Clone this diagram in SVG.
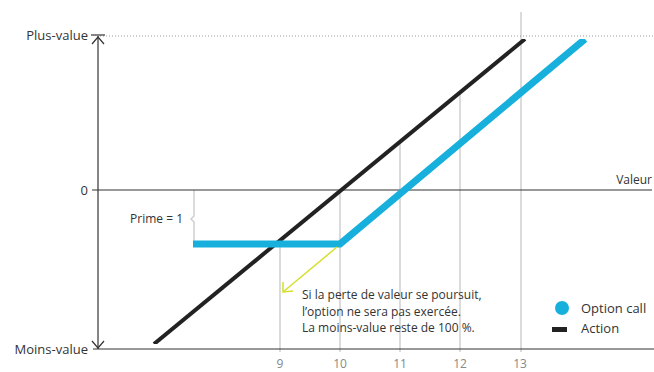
<svg xmlns="http://www.w3.org/2000/svg" width="654" height="372" viewBox="0 0 654 372">
  <style>
    text { font-family: "Open Sans", "Liberation Sans", sans-serif; fill: #333; }
    .lbl { font-size: 13px; }
    .tick { font-size: 12px; fill: #888; text-anchor: middle; }
    .note { font-size: 12px; }
    .axis { stroke: #333; stroke-width: 1.2; fill: none; }
    .grid { stroke: #cfcfcf; stroke-width: 1.5; fill: none; }
  </style>
  <defs>
    <clipPath id="plot"><rect x="0" y="39" width="654" height="305"/></clipPath>
  </defs>
  <rect width="654" height="372" fill="#fff"/>

  <g id="grid">
    <line class="grid" x1="280" y1="243" x2="280" y2="352"/>
    <line class="grid" x1="340" y1="190" x2="340" y2="352"/>
    <line class="grid" x1="400" y1="143" x2="400" y2="352"/>
    <line class="grid" x1="460" y1="93" x2="460" y2="352"/>
    <line class="grid" x1="521" y1="12" x2="521" y2="352"/>
    <path class="grid" d="M194,190 V216 L191,219 L194,222 V244"/>
  </g>

  <g id="axes">
    <line x1="100" y1="36" x2="654" y2="36" stroke="#999" stroke-width="1" stroke-dasharray="1,2"/>
    <line class="axis" x1="91" y1="35" x2="105" y2="35"/>
    <line class="axis" x1="98" y1="36" x2="98" y2="349"/>
    <polyline class="axis" points="92,44 98,37 104,44"/>
    <polyline class="axis" points="92,341 98,348 104,341"/>
    <line class="axis" x1="92" y1="190" x2="652" y2="190"/>
    <line class="axis" x1="93" y1="349" x2="654" y2="349"/>
  </g>

  <g id="connectors" clip-path="url(#plot)">
    <line id="action" x1="154" y1="344" x2="525" y2="39" stroke="#222" stroke-width="4"/>
    <polyline id="option" points="193,244 340,244 585,39" stroke="#17b0dd" stroke-width="7" fill="none" stroke-linejoin="miter"/>
    <g id="arrow" stroke="#d5df2e" stroke-width="1.5" fill="none">
      <line x1="337" y1="247" x2="283" y2="292"/>
      <polyline points="283,282 283,292 293,291"/>
    </g>
  </g>

  <g id="labels">
    <text class="lbl" x="88" y="40" text-anchor="end">Plus-value</text>
    <text class="lbl" x="88" y="195" text-anchor="end">0</text>
    <text class="lbl" x="88" y="354" text-anchor="end" font-size="13.5">Moins-value</text>
    <text class="note" x="652" y="184" text-anchor="end">Valeur</text>
    <text class="note" x="183" y="223" text-anchor="end" font-size="11">Prime = 1</text>
    <text class="tick" x="280" y="368">9</text>
    <text class="tick" x="340" y="368">10</text>
    <text class="tick" x="400" y="368">11</text>
    <text class="tick" x="460" y="368">12</text>
    <text class="tick" x="520" y="368">13</text>
  </g>

  <g id="note">
    <text class="note" x="302" y="299">Si la perte de valeur se poursuit,</text>
    <text class="note" x="302" y="315.5">l’option ne sera pas exercée.</text>
    <text class="note" x="302" y="332">La moins-value reste de 100 %.</text>
  </g>

  <g id="legend">
    <circle cx="562" cy="308" r="7" fill="#17b0dd"/>
    <text class="lbl" x="581" y="313">Option call</text>
    <rect x="552" y="327" width="15" height="5" fill="#222"/>
    <text class="lbl" x="581" y="333">Action</text>
  </g>
</svg>
